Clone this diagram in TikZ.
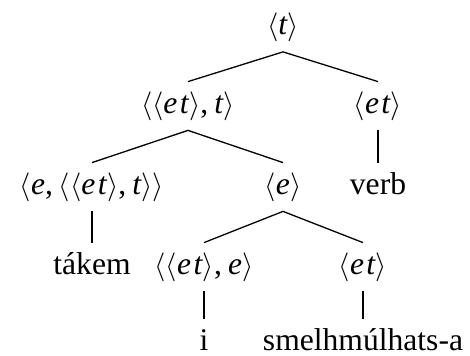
\documentclass[tikz,border=0pt]{standalone}
\usepackage{fontspec}
\setmainfont{Liberation Serif}
\newcommand\la{$\langle$}
\newcommand\ra{$\rangle$}
\newcommand\vt[1]{\textit{#1}}
\newcommand\etp{\vt{e\kern1.2pt t}}
\begin{document}
\begin{tikzpicture}[x=0.5pt,y=-0.5pt,
  lbl/.style={anchor=base,font=\fontsize{15.8}{18}\selectfont,
    text height=11.25pt,text depth=3.75pt,inner xsep=1pt,inner ysep=4.5pt},
  word/.style={lbl},
  leaf/.style={word,text depth=0pt,inner ysep=4.5pt},
  edge/.style={line width=0.65pt}]
\useasboundingbox (0,0) rectangle (470,356);
\node[lbl] (root) at (283,35) {\la\vt{t}\ra};
\node[lbl] (a) at (188,113.5) {\la\la\etp\ra,\kern3pt\vt{t}\ra};
\node[lbl] (b) at (378,113.5) {\la\etp\ra};
\node[lbl] (c) at (92,194.5) {\la\vt{e},\kern3pt\la\la\etp\ra,\kern3pt\vt{t}\ra\ra};
\node[lbl] (d) at (283,194.5) {\la\vt{e}\ra};
\node[word] (verb) at (378,194.5) {verb};
\node[word] (takem) at (92,274.5) {tákem};
\node[lbl] (f) at (204,274.5) {\la\la\etp\ra,\kern3pt\vt{e}\ra};
\node[lbl] (g) at (363,274.5) {\la\etp\ra};
\node[leaf] (i) at (204,351) {i};
\node[leaf] (smelh) at (363,351) {smelhmúlhats-a};
\draw[edge] (a.north) -- (root.south) -- (b.north);
\draw[edge] (c.north) -- (a.south) -- (d.north);
\draw[edge] (b.south) -- (verb.north);
\draw[edge] (c.south) -- (takem.north);
\draw[edge] (f.north) -- (d.south) -- (g.north);
\draw[edge] (f.south) -- (i.north);
\draw[edge] (g.south) -- (smelh.north);
\end{tikzpicture}
\end{document}
